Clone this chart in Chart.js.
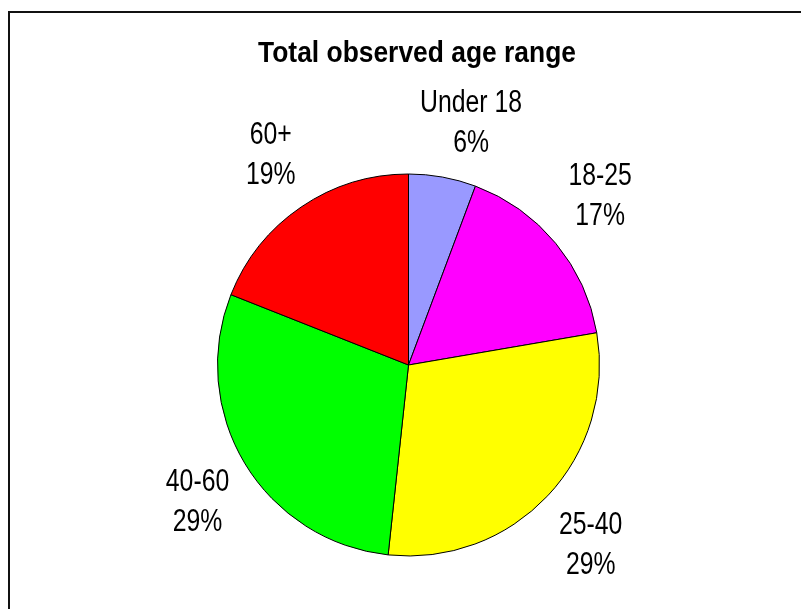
<!DOCTYPE html>
<html>
<head>
<meta charset="utf-8">
<script src="https://cdn.jsdelivr.net/npm/chart.js@4.4.0/dist/chart.umd.min.js"></script>
<style>
  html, body { margin: 0; padding: 0; background: #fff; }
  #wrap { position: relative; width: 801px; height: 609px; }
  #frame { position: absolute; left: 8px; top: 11px; right: -10px; bottom: -10px;
           border-left: 2px solid #111; border-top: 2px solid #111; pointer-events: none; }
</style>
</head>
<body>
<div id="wrap">
  <canvas id="mycanvas" width="801" height="609"></canvas>
  <div id="frame"></div>
</div>
<script>
var ageGroups = ["Under 18", "18-25", "25-40", "40-60", "60+"];
var shares = [5.7, 16.6, 29.4, 29.3, 19.0];
var sliceColors = ["#9999FF", "#FF00FF", "#FFFF00", "#00FF00", "#FF0000"];
var chartTitle = "Total observed age range";

var FONT = "'Liberation Sans', Arial, sans-serif";
var NARROW = 0.8; // no Arial Narrow here, so squeeze the normal one

function narrowText(ctx, txt, x, y, squeeze) {
	ctx.save();
	ctx.translate(x, y);
	ctx.scale(squeeze, 1);
	ctx.fillText(txt, 0, 0);
	ctx.restore();
}

// title + "name / xx%" outside each slice, roughly where excel puts them
var outsideLabels = {
	id: "outsideLabels",
	afterDatasetsDraw: function(chart) {
		var ctx = chart.ctx;
		var meta = chart.getDatasetMeta(0);
		var total = 0;
		for (var i in shares) total += shares[i];
		ctx.save();
		ctx.fillStyle = "#000";
		ctx.textAlign = "center";

		ctx.textBaseline = "alphabetic";
		ctx.font = "bold 30px " + FONT;
		narrowText(ctx, chartTitle, 417, 62, 0.88);

		ctx.textBaseline = "middle";
		meta.data.forEach(function(arc, i) {
			var p = arc.getProps(["x", "y", "startAngle", "endAngle", "outerRadius"], true);
			var mid = (p.startAngle + p.endAngle) / 2;
			var c = Math.cos(mid), s = Math.sin(mid);
			var ax = p.x + (p.outerRadius + 14) * c;
			var ay = p.y + (p.outerRadius + 14) * s;
			var lines = [ageGroups[i], Math.round(shares[i] / total * 100) + "%"];
			ctx.font = "30px " + FONT;
			var w = Math.max(ctx.measureText(lines[0]).width, ctx.measureText(lines[1]).width);
			var cx = ax + Math.sign(c) * Math.sqrt(Math.abs(c)) * w / 2;
			var cy = ay + Math.sign(s) * 40 * Math.min(1, Math.abs(s) * 1.5);
			ctx.font = "31px " + FONT;
			narrowText(ctx, lines[0], cx, cy - 20, NARROW);
			narrowText(ctx, lines[1], cx, cy + 20, NARROW);
		});
		ctx.restore();
	}
};

var chartdata = {
	labels: ageGroups,
	datasets: [
		{
			data: shares,
			backgroundColor: sliceColors,
			borderColor: "#000",
			borderWidth: 1
		}
	]
};

var ctx = document.getElementById("mycanvas");

var PieGraph = new Chart(ctx, {
	type: "pie",
	data: chartdata,
	options: {
		responsive: false,
		animation: false,
		radius: 191,
		layout: { padding: { left: 200, right: 184, top: 160, bottom: 39 } },
		plugins: {
			legend: { display: false },
			tooltip: { enabled: false },
			title: { display: false }
		}
	},
	plugins: [outsideLabels]
});
</script>
</body>
</html>
